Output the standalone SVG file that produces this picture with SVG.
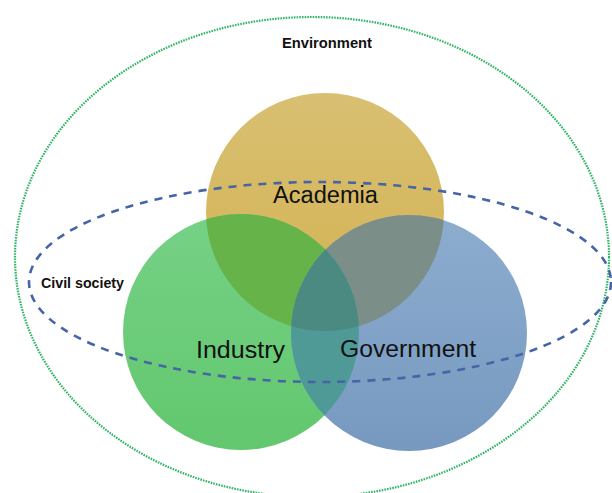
<svg xmlns="http://www.w3.org/2000/svg" width="612" height="493" viewBox="0 0 612 493">
<style>
.lbl{font-family:"Liberation Sans",Arial,sans-serif;fill:#111}
.big{font-size:23px}
.small{font-size:14px;font-weight:bold}
.env{fill:none;stroke:#2fb565;stroke-width:2.2;stroke-dasharray:1.6 1.1}
.civ{fill:none;stroke:#4565a6;stroke-width:2.6;stroke-dasharray:8 7}
</style>
<defs>
<linearGradient id="gA" x1="0" y1="0" x2="0" y2="1"><stop offset="0" stop-color="#d8bf72"/><stop offset="1" stop-color="#d3b24f"/></linearGradient>
<linearGradient id="gI" x1="0" y1="0" x2="0" y2="1"><stop offset="0" stop-color="#76d186"/><stop offset="1" stop-color="#62c76e"/></linearGradient>
<linearGradient id="gG" x1="0" y1="0" x2="0" y2="1"><stop offset="0" stop-color="#8cadce"/><stop offset="1" stop-color="#7799c0"/></linearGradient>
<clipPath id="cA"><circle cx="325" cy="212" r="119"/></clipPath>
<clipPath id="cI"><circle cx="241" cy="332" r="118"/></clipPath>
</defs>
<g id="environment">
<ellipse class="env" cx="312" cy="257" rx="297" ry="240"/>
<text class="lbl small" x="282" y="48" textLength="90" lengthAdjust="spacingAndGlyphs">Environment</text>
</g>
<g id="academia">
<circle cx="325" cy="212" r="119" fill="url(#gA)"/>
<text class="lbl big" x="273" y="203" textLength="105" lengthAdjust="spacingAndGlyphs">Academia</text>
</g>
<g id="industry">
<circle cx="241" cy="332" r="118" fill="url(#gI)"/>
<circle cx="241" cy="332" r="118" fill="#66b34a" clip-path="url(#cA)"/>
<text class="lbl big" x="196" y="358" textLength="89" lengthAdjust="spacingAndGlyphs">Industry</text>
</g>
<g id="government">
<circle cx="409" cy="333" r="118" fill="url(#gG)"/>
<circle cx="409" cy="333" r="118" fill="#7b8f88" clip-path="url(#cA)"/>
<circle cx="409" cy="333" r="118" fill="#4f9a96" clip-path="url(#cI)"/>
<g clip-path="url(#cA)"><circle cx="409" cy="333" r="118" fill="#4a8a80" clip-path="url(#cI)"/></g>
<text class="lbl big" x="340" y="357" textLength="136" lengthAdjust="spacingAndGlyphs">Government</text>
</g>
<g id="civil-society">
<ellipse class="civ" cx="320" cy="282" rx="291" ry="100"/>
<text class="lbl small" x="41" y="288" textLength="83" lengthAdjust="spacingAndGlyphs">Civil society</text>
</g>
<g id="connectors"/>
</svg>
